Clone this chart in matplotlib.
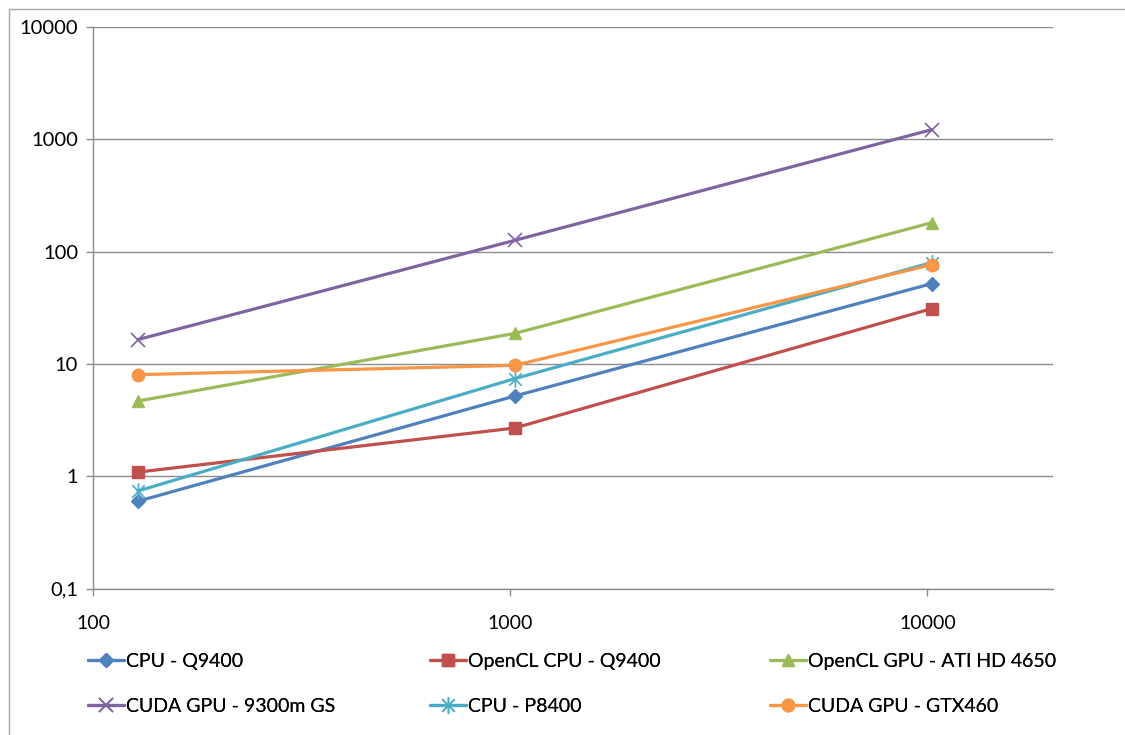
import numpy as np
import matplotlib
matplotlib.use('Agg')
import matplotlib.pyplot as plt
from matplotlib.path import Path
from matplotlib.patches import Rectangle
from matplotlib.ticker import FixedLocator, FuncFormatter, NullLocator

plt.rcParams['font.family'] = ['Lato', 'DejaVu Sans']

# tamanos de problema
tamanos = [128, 1024, 10240]

# tiempos por implementacion
cpu_q9400 = [0.60, 5.18, 51.9]
opencl_cpu_q9400 = [1.09, 2.69, 31.1]
opencl_gpu_ati = [4.68, 18.7, 181]
cuda_9300m = [16.5, 126, 1220]
cpu_p8400 = [0.74, 7.40, 80]
cuda_gtx460 = [8.03, 9.72, 76.6]

nombres = ['CPU - Q9400', 'OpenCL CPU - Q9400', 'OpenCL GPU - ATI HD 4650',
           'CUDA GPU - 9300m GS', 'CPU - P8400', 'CUDA GPU - GTX460']

# marcador asterisco: vertical + x
estrella = Path([(0, -1), (0, 1), (-0.75, -0.75), (0.75, 0.75), (-0.75, 0.75), (0.75, -0.75)],
                [Path.MOVETO, Path.LINETO, Path.MOVETO, Path.LINETO, Path.MOVETO, Path.LINETO])

series = [
    (cpu_q9400, '#4F81BD', 'D', 7),
    (opencl_cpu_q9400, '#C0504D', 's', 8),
    (opencl_gpu_ati, '#9BBB59', '^', 9),
    (cuda_9300m, '#8064A2', 'x', 10),
    (cpu_p8400, '#4BACC6', estrella, 12),
    (cuda_gtx460, '#F79646', 'o', 9),
]

fig = plt.figure(figsize=(11.25, 7.35), dpi=100)
ax = fig.add_axes([93.4 / 1125, 1 - 588.6 / 735, (1053 - 93.4) / 1125, (588.6 - 27) / 735])

# borde exterior del grafico
fig.patches.append(Rectangle((9 / 1125, -0.1), 1.2, 1 - 9 / 735 + 0.1, transform=fig.transFigure,
                             fill=False, edgecolor='#A6A6A6', linewidth=1.0))

handles = []
for (valores, color, marca, tam), nombre in zip(series, nombres):
    mew = 1.2 if marca in ('x',) or marca is estrella else 1.0
    h, = ax.plot(tamanos, valores, color=color, lw=2.3, marker=marca, markersize=tam,
                 markerfacecolor=color, markeredgecolor=color, markeredgewidth=mew,
                 label=nombre, solid_capstyle='round')
    handles.append(h)

ax.set_xscale('log')
ax.set_yscale('log')
ax.set_xlim(100, 20000)
ax.set_ylim(0.1, 10000)

ax.xaxis.set_major_locator(FixedLocator([100, 1000, 10000]))
ax.xaxis.set_minor_locator(NullLocator())
ax.yaxis.set_major_locator(FixedLocator([0.1, 1, 10, 100, 1000, 10000]))
ax.yaxis.set_minor_locator(NullLocator())
ax.xaxis.set_major_formatter(FuncFormatter(lambda v, p: f'{v:g}'))
ax.yaxis.set_major_formatter(FuncFormatter(lambda v, p: f'{v:g}'.replace('.', ',')))

ax.grid(axis='y', color='#8C8C8C', linewidth=1.0)
ax.set_axisbelow(True)
for lado in ['top', 'right']:
    ax.spines[lado].set_visible(False)
for lado in ['left', 'bottom']:
    ax.spines[lado].set_color('#8C8C8C')
    ax.spines[lado].set_linewidth(1.0)
ax.tick_params(axis='both', colors='#8C8C8C', length=5, width=1.0, labelcolor='black')
ax.tick_params(axis='y', pad=6, labelsize=14.5)
ax.tick_params(axis='x', pad=14, labelsize=14)

# leyenda: tres columnas, dos filas
columnas_x = [88, 430, 770]
for c, x0 in enumerate(columnas_x):
    idx = [c, c + 3]
    leg = fig.legend([handles[i] for i in idx], [nombres[i] for i in idx],
                     loc='upper left', bbox_to_anchor=(x0 / 1125, 1 - 653 / 735),
                     frameon=False, fontsize=14, handlelength=1.85, handletextpad=0.1,
                     labelspacing=1.45, borderaxespad=0, borderpad=0)
    fig.add_artist(leg)

plt.savefig('out.png', dpi=100)
